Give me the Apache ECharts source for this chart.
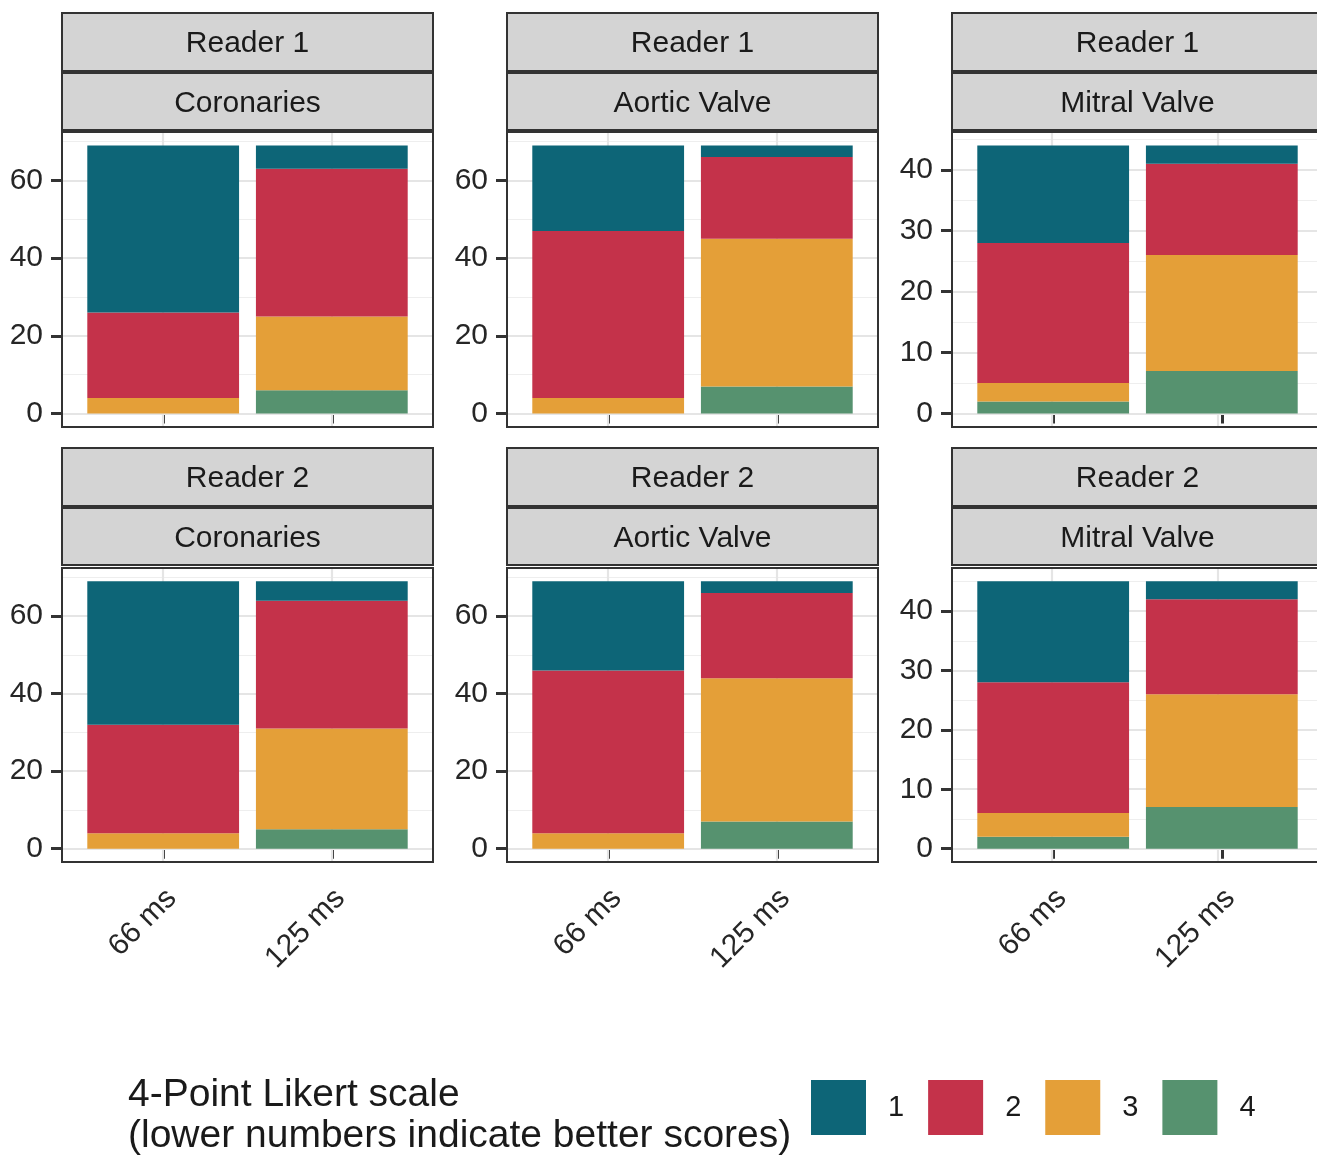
<!DOCTYPE html>
<html><head><meta charset="utf-8">
<script src="https://cdn.jsdelivr.net/npm/echarts@6/dist/echarts.min.js"></script>
<style>html,body{margin:0;padding:0;background:#fff}#c{width:1317px;height:1155px}</style>
</head><body><div id="c"></div>
<script>
// ---- data ----
const categories = ['66 ms', '125 ms'];
const levels = ['1', '2', '3', '4'];
const colors = ['#0D6577', '#C4324A', '#E49F38', '#56926F'];
const readers = ['Reader 1', 'Reader 2'];
const regions = ['Coronaries', 'Aortic Valve', 'Mitral Valve'];
// each row = one Likert level (1..4), columns = [66 ms, 125 ms]
const r1Coronaries = [[43, 6], [22, 38], [4, 19], [0, 6]];
const r1Aortic     = [[22, 3], [43, 21], [4, 38], [0, 7]];
const r1Mitral     = [[16, 3], [23, 15], [3, 19], [2, 7]];
const r2Coronaries = [[37, 5], [28, 33], [4, 26], [0, 5]];
const r2Aortic     = [[23, 3], [42, 22], [4, 37], [0, 7]];
const r2Mitral     = [[17, 3], [22, 16], [4, 19], [2, 7]];
const yTicksWide   = [0, 20, 40, 60];
const yMinorWide   = [10, 30, 50, 70];
const yTicksMitral = [0, 10, 20, 30, 40];
const yMinorMitral = [5, 15, 25, 35, 45];
const legendTitle = '4-Point Likert scale\n(lower numbers indicate better scores)';

const panels = [
  {row: 0, col: 0, data: r1Coronaries, ticks: yTicksWide, minor: yMinorWide},
  {row: 0, col: 1, data: r1Aortic, ticks: yTicksWide, minor: yMinorWide},
  {row: 0, col: 2, data: r1Mitral, ticks: yTicksMitral, minor: yMinorMitral},
  {row: 1, col: 0, data: r2Coronaries, ticks: yTicksWide, minor: yMinorWide},
  {row: 1, col: 1, data: r2Aortic, ticks: yTicksWide, minor: yMinorWide},
  {row: 1, col: 2, data: r2Mitral, ticks: yTicksMitral, minor: yMinorMitral}
];

// ---- layout ----
const FONT = 'Arial, "Liberation Sans", Helvetica, sans-serif';
const colLeft = [62, 507, 952];
const panelW = 371;
const stripTop = [13, 448];
const plotTop = [132, 568];
const plotH = [295, 294];
const xPos = categories.map((c, i) => i + 1);       // discrete positions
const xMin = 1 - 0.6, xMax = categories.length + 0.6; // ggplot discrete expansion
const unit = panelW / (xMax - xMin);

const grid = [], xAxis = [], yAxis = [], series = [], graphic = [];

panels.forEach((p, k) => {
  const left = colLeft[p.col];
  const total = Math.max(...categories.map((c, ci) => p.data.reduce((s, r) => s + r[ci], 0)));
  const yMin = -0.05 * total, yMax = 1.05 * total;
  const og = 2 * k, ig = 2 * k + 1;
  // outer grid: full panel (gridlines + y axis)
  grid.push({left: left, top: plotTop[p.row], width: panelW, height: plotH[p.row], show: false});
  // inner grid: the category band range (0.5 .. n+0.5)
  grid.push({left: left + (0.5 - xMin) * unit, top: plotTop[p.row], width: categories.length * unit,
    height: plotH[p.row], show: false});

  xAxis.push({gridIndex: og, type: 'value', min: xMin, max: xMax, show: false});
  xAxis.push({
    gridIndex: ig, type: 'category', data: categories, boundaryGap: true,
    splitLine: {show: false}, axisLine: {show: false},
    axisTick: {show: true, alignWithLabel: true, length: 10, lineStyle: {color: '#333', width: 3}},
    axisLabel: {show: p.row === 1, interval: 0, rotate: 45, align: 'right', verticalAlign: 'top', margin: 19,
      padding: [0, 3, 0, 0],
      fontSize: 30, color: '#262626', fontFamily: FONT}
  });
  yAxis.push({
    gridIndex: og, type: 'value', min: yMin, max: yMax,
    splitLine: {show: false}, axisLine: {show: false},
    axisTick: {show: true, length: 11, customValues: p.ticks, lineStyle: {color: '#333', width: 3}},
    axisLabel: {customValues: p.ticks, fontSize: 30, color: '#262626', margin: 19, fontFamily: FONT}
  });
  yAxis.push({gridIndex: ig, type: 'value', min: yMin, max: yMax, show: false, splitLine: {show: false}});

  // gridlines (theme_bw) via markLine on a dummy series in the outer grid
  series.push({
    type: 'line', name: 'gridlines', xAxisIndex: og, yAxisIndex: og, data: [[xPos[0], 0]],
    symbol: 'none', lineStyle: {opacity: 0}, silent: true, z: 1, animation: false,
    markLine: {
      silent: true, symbol: ['none', 'none'], label: {show: false}, z: 1, animation: false,
      emphasis: {disabled: true},
      data: [
        ...p.minor.map(v => ({yAxis: v, lineStyle: {width: 1.2, color: '#EEEEEE', type: 'solid'}})),
        ...p.ticks.map(v => ({yAxis: v, lineStyle: {width: 2.2, color: '#E5E5E5', type: 'solid'}})),
        ...xPos.map(v => ({xAxis: v, lineStyle: {width: 2.2, color: '#E5E5E5', type: 'solid'}}))
      ]
    }
  });
  // stacked bars: level 4 at the bottom, level 1 on top
  for (let li = levels.length - 1; li >= 0; li--) {
    series.push({
      type: 'bar', name: levels[li], xAxisIndex: ig, yAxisIndex: ig, stack: 'st' + k,
      barWidth: '90%', z: 3, animation: false,
      itemStyle: {color: colors[li]},
      data: p.data[li]
    });
  }
  // panel border
  graphic.push({type: 'rect', z: 100, silent: true,
    shape: {x: left, y: plotTop[p.row], width: panelW, height: plotH[p.row]},
    style: {fill: 'none', stroke: '#333', lineWidth: 2}});
  // strips
  [readers[p.row], regions[p.col]].forEach((t, si) => {
    const y = stripTop[p.row] + si * 60;
    const h = si === 0 ? 58 : 57;
    graphic.push({type: 'rect', z: 100, silent: true,
      shape: {x: left, y: y, width: panelW, height: h},
      style: {fill: '#D4D4D4', stroke: '#333', lineWidth: 2}});
    graphic.push({type: 'text', z: 101, silent: true,
      style: {text: t, x: left + panelW / 2, y: y + h / 2 + 2, align: 'center', verticalAlign: 'middle',
        textAlign: 'center', textVerticalAlign: 'middle',
        fontSize: 30, fontFamily: FONT, fill: '#1A1A1A'}});
  });
});

graphic.push({type: 'text', z: 101, silent: true,
  style: {text: legendTitle, x: 128, y: 1075, fontSize: 39, lineHeight: 41, fontFamily: FONT, fill: '#1A1A1A'}});

const chart = echarts.init(document.getElementById('c'), null, {renderer: 'canvas'});
chart.setOption({
  animation: false,
  backgroundColor: '#fff',
  grid, xAxis, yAxis, series, graphic,
  legend: {data: levels, left: 811, top: 1080, padding: 0, itemWidth: 55, itemHeight: 55, itemGap: 24,
    icon: 'rect', selectedMode: false,
    textStyle: {fontSize: 29, color: '#1A1A1A', fontFamily: FONT, padding: [0, 0, 0, 17]}}
});
</script></body></html>
